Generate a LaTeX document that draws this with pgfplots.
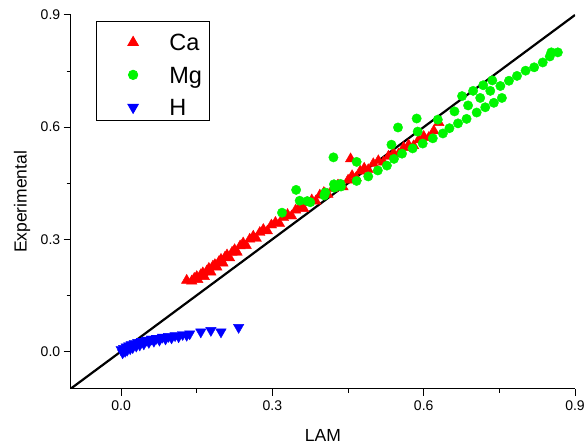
\documentclass[border=0pt]{standalone}
\usepackage{pgfplots}
\pgfplotsset{compat=1.18}
\usepackage{fontspec}
\setmainfont{Liberation Sans}
\definecolor{caR}{RGB}{255,0,0}
\definecolor{mgG}{RGB}{0,245,0}
\definecolor{hB}{RGB}{0,0,255}
\pgfplotsset{
  mymk/.style={only marks,
    legend image code/.code={\path[draw=none,fill=none] (0bp,-6bp) rectangle (66bp,16bp); \draw[##1] plot coordinates {(29.7bp,0bp)};}},
}
\begin{document}
\begin{tikzpicture}
\begin{axis}[
  scale only axis, width=504.3bp, height=373.7bp,
  xmin=-0.1, xmax=0.9, ymin=-0.1, ymax=0.9,
  axis x line*=bottom, axis y line*=left,
  axis line style={line width=1bp, black},
  xtick={0,0.3,0.6,0.9}, ytick={0,0.3,0.6,0.9},
  minor tick num=1,
  tick align=outside,
  major tick length=7bp, minor tick length=4bp,
  every tick/.style={black, line width=1bp},
  xticklabel style={font=\fontsize{14bp}{16bp}\selectfont, yshift=-1.5bp},
  yticklabel style={font=\fontsize{14bp}{16bp}\selectfont},
  /pgf/number format/.cd, fixed, fixed zerofill, precision=1, assume math mode=true, /pgfplots/.cd,
  xlabel={LAM}, ylabel={Experimental},
  xlabel style={font=\fontsize{17.5bp}{20bp}\selectfont, at={([yshift=-53bp]axis description cs:0.5,0)}, anchor=base},
  ylabel style={font=\fontsize{17.5bp}{20bp}\selectfont, at={([xshift=-44bp]axis description cs:0,0.5)}, anchor=base, rotate=0},
  legend style={at={(0.0502,0.984)}, anchor=north west, draw=black, line width=0.8bp,
    inner xsep=7bp, inner ysep=5bp, row sep=8bp, column sep=0bp,
    font=\fontsize{23.5bp}{26bp}\selectfont,
    nodes={inner sep=0bp, text height=17bp, text depth=0bp}},
  legend cell align=left,
]
\addplot[mymk, mark=triangle*, mark size=6bp, color=caR] table {
x y
0.130 0.190
0.140 0.188
0.145 0.195
0.150 0.200
0.152 0.192
0.158 0.205
0.162 0.210
0.165 0.200
0.170 0.215
0.174 0.222
0.178 0.212
0.182 0.228
0.186 0.232
0.190 0.225
0.194 0.240
0.198 0.246
0.202 0.236
0.206 0.252
0.210 0.258
0.215 0.250
0.220 0.265
0.225 0.272
0.230 0.265
0.236 0.282
0.242 0.290
0.248 0.283
0.255 0.300
0.262 0.308
0.268 0.302
0.275 0.318
0.282 0.326
0.290 0.322
0.298 0.338
0.306 0.345
0.314 0.342
0.322 0.358
0.330 0.366
0.338 0.362
0.346 0.378
0.354 0.386
0.362 0.382
0.370 0.398
0.378 0.405
0.386 0.402
0.394 0.418
0.402 0.425
0.410 0.420
0.420 0.436
0.430 0.445
0.440 0.440
0.450 0.458
0.455 0.515
0.458 0.470
0.466 0.465
0.474 0.482
0.482 0.490
0.490 0.486
0.500 0.502
0.510 0.510
0.520 0.506
0.530 0.522
0.540 0.530
0.550 0.528
0.560 0.545
0.570 0.552
0.580 0.550
0.590 0.566
0.600 0.575
0.610 0.572
0.620 0.590
0.630 0.612
};
\addlegendentry{Ca}
\addplot[mymk, mark=*, mark size=4.7bp, color=mgG] table {
x y
0.319 0.371
0.347 0.432
0.354 0.403
0.369 0.402
0.375 0.399
0.403 0.417
0.405 0.425
0.421 0.519
0.423 0.438
0.422 0.447
0.436 0.441
0.435 0.448
0.467 0.456
0.467 0.507
0.490 0.468
0.509 0.484
0.527 0.497
0.541 0.515
0.536 0.553
0.549 0.599
0.557 0.529
0.578 0.543
0.586 0.623
0.588 0.588
0.598 0.556
0.618 0.570
0.628 0.620
0.638 0.583
0.651 0.597
0.661 0.642
0.668 0.610
0.676 0.683
0.685 0.622
0.688 0.658
0.698 0.697
0.705 0.639
0.712 0.678
0.718 0.712
0.722 0.653
0.732 0.697
0.736 0.725
0.739 0.665
0.752 0.710
0.755 0.678
0.769 0.724
0.785 0.737
0.802 0.751
0.819 0.760
0.836 0.773
0.850 0.789
0.853 0.800
0.866 0.800
};
\addlegendentry{Mg}
\addplot[mymk, mark=triangle*, mark size=6bp, mark options={rotate=180}, color=hB] table {
x y
0.000 0.005
0.003 -0.004
0.005 0.008
0.008 0.000
0.010 0.012
0.012 0.003
0.015 0.015
0.018 0.007
0.020 0.018
0.023 0.010
0.026 0.021
0.030 0.014
0.033 0.024
0.037 0.017
0.040 0.027
0.045 0.020
0.050 0.030
0.055 0.024
0.060 0.033
0.065 0.027
0.070 0.035
0.076 0.030
0.082 0.038
0.088 0.033
0.094 0.040
0.100 0.036
0.107 0.042
0.114 0.039
0.122 0.045
0.130 0.043
0.136 0.047
0.158 0.052
0.178 0.056
0.198 0.052
0.233 0.064
};
\addlegendentry{H}
\addplot[black, line width=2.2bp, forget plot] coordinates {(-0.1,-0.1) (0.9,0.9)};
\end{axis}
\pgfresetboundingbox
\path (-70.7bp,-57.3bp) rectangle (516.3bp,388.7bp);
\end{tikzpicture}
\end{document}
